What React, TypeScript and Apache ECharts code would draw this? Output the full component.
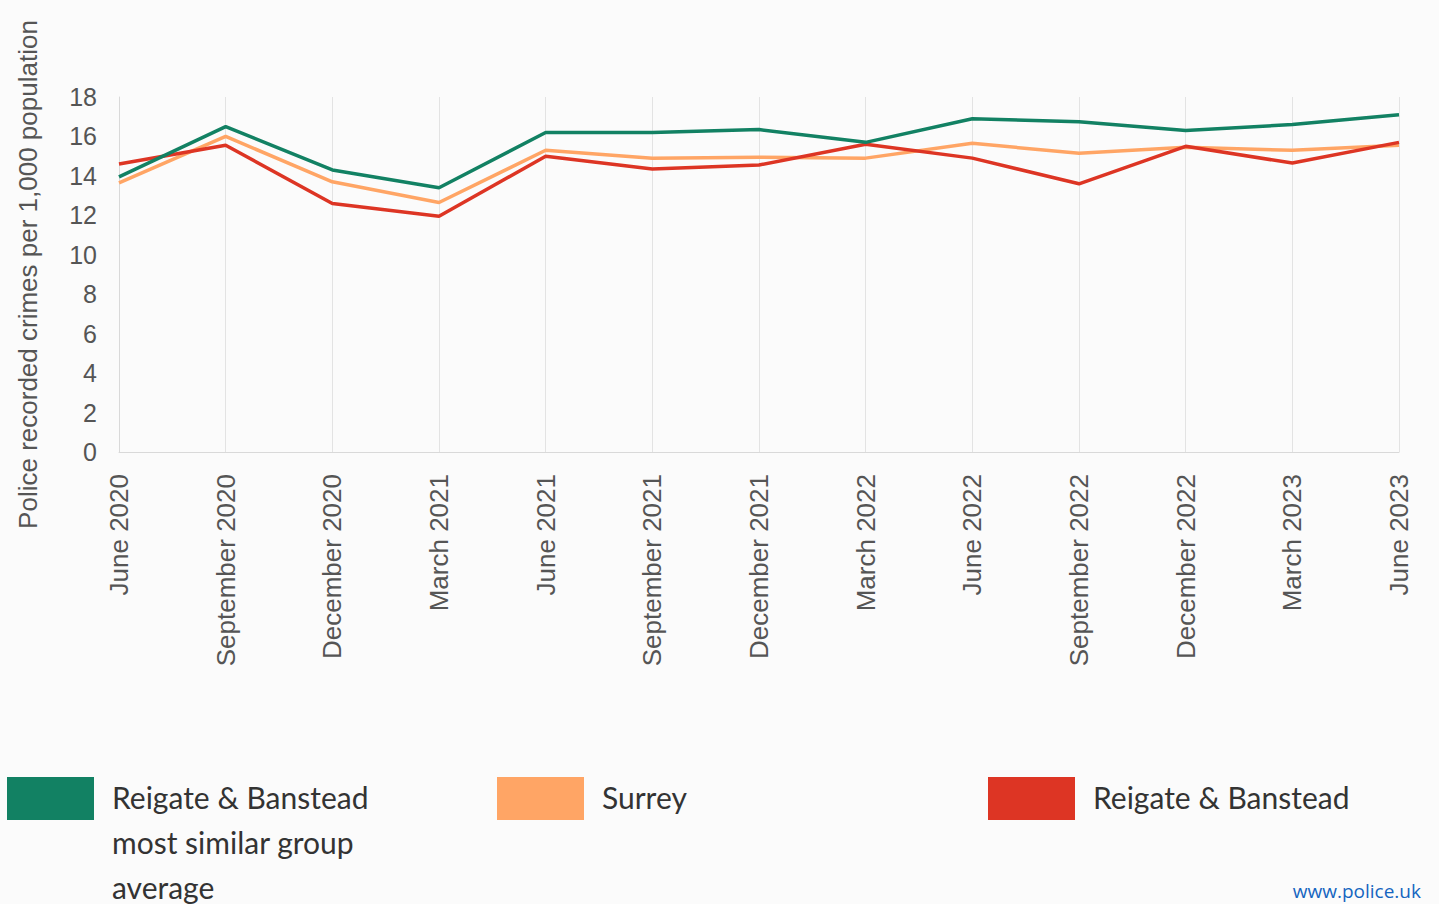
import React, { useEffect, useRef } from "react";
import * as echarts from "echarts";

const categories = [
  "June 2020", "September 2020", "December 2020", "March 2021", "June 2021",
  "September 2021", "December 2021", "March 2022", "June 2022", "September 2022",
  "December 2022", "March 2023", "June 2023",
];
const similarGroup = [13.95, 16.5, 14.3, 13.4, 16.2, 16.2, 16.35, 15.7, 16.9, 16.75, 16.3, 16.6, 17.1];
const surrey = [13.65, 16.0, 13.7, 12.65, 15.3, 14.9, 14.95, 14.9, 15.65, 15.15, 15.45, 15.3, 15.55];
const reigate = [14.6, 15.55, 12.6, 11.95, 15.0, 14.35, 14.55, 15.6, 14.9, 13.6, 15.5, 14.65, 15.7];
const yTicks = { min: 0, max: 18, interval: 2 };

const seriesNames = ["Reigate & Banstead most similar group average", "Surrey", "Reigate & Banstead"];
const legendLines = [["Reigate & Banstead", "most similar group", "average"], ["Surrey"], ["Reigate & Banstead"]];
const colors = ["#128163", "#ffa565", "#dd3524"];

export default function App() {
  const ref = useRef<HTMLDivElement>(null);
  useEffect(() => {
    if (!ref.current) return;
    const chart = echarts.init(ref.current, null, { renderer: "svg" });
    const legendX = [7, 497, 988];
    const graphic: any[] = [];
    legendLines.forEach((lines, i) => {
      graphic.push({
        type: "rect",
        left: legendX[i],
        top: 777,
        shape: { width: 87, height: 43 },
        style: { fill: colors[i] },
      });
      graphic.push({
        type: "text",
        left: legendX[i] + 105,
        top: 774,
        style: {
          text: lines.join("\n"),
          font: "30px Lato",
          lineHeight: 45,
          fill: "#333333",
        },
      });
    });
    graphic.push({
      type: "text",
      right: 18,
      top: 881,
      style: { text: "www.police.uk", font: "19px 'Open Sans'", fill: "#1565c0" },
    });
    chart.setOption({
      animation: false,
      backgroundColor: "#fbfbfb",
      color: colors,
      grid: { left: 119, right: 40, top: 97, bottom: 452, containLabel: false },
      xAxis: {
        type: "category",
        data: categories,
        boundaryGap: false,
        axisLine: { lineStyle: { color: "#d9d9d9" } },
        axisTick: { show: false },
        splitLine: { show: true, lineStyle: { color: "#e3e3e3", width: 1 } },
        axisLabel: {
          rotate: 90,
          interval: 0,
          margin: 22,
          fontSize: 26,
          fontFamily: "Liberation Sans",
          color: "#555555",
        },
      },
      yAxis: {
        type: "value",
        min: yTicks.min,
        max: yTicks.max,
        interval: yTicks.interval,
        name: "Police recorded crimes per 1,000 population",
        nameLocation: "middle",
        nameGap: 78,
        nameTextStyle: { fontSize: 26, fontFamily: "Liberation Sans", color: "#555555" },
        axisLine: { show: true, lineStyle: { color: "#d9d9d9" } },
        axisTick: { show: false },
        splitLine: { show: false },
        axisLabel: { fontSize: 25, fontFamily: "Liberation Sans", color: "#555555", margin: 22 },
      },
      series: [similarGroup, surrey, reigate].map((d, i) => ({
        name: seriesNames[i],
        type: "line",
        data: d,
        symbol: "none",
        lineStyle: { width: 3.5, color: colors[i] },
        z: i === 1 ? 2 : i === 2 ? 3 : 4,
      })),
      graphic,
    });
    return () => chart.dispose();
  }, []);
  return <div ref={ref} style={{ width: 1439, height: 904, position: "absolute", left: 0, top: 0 }} />;
}
